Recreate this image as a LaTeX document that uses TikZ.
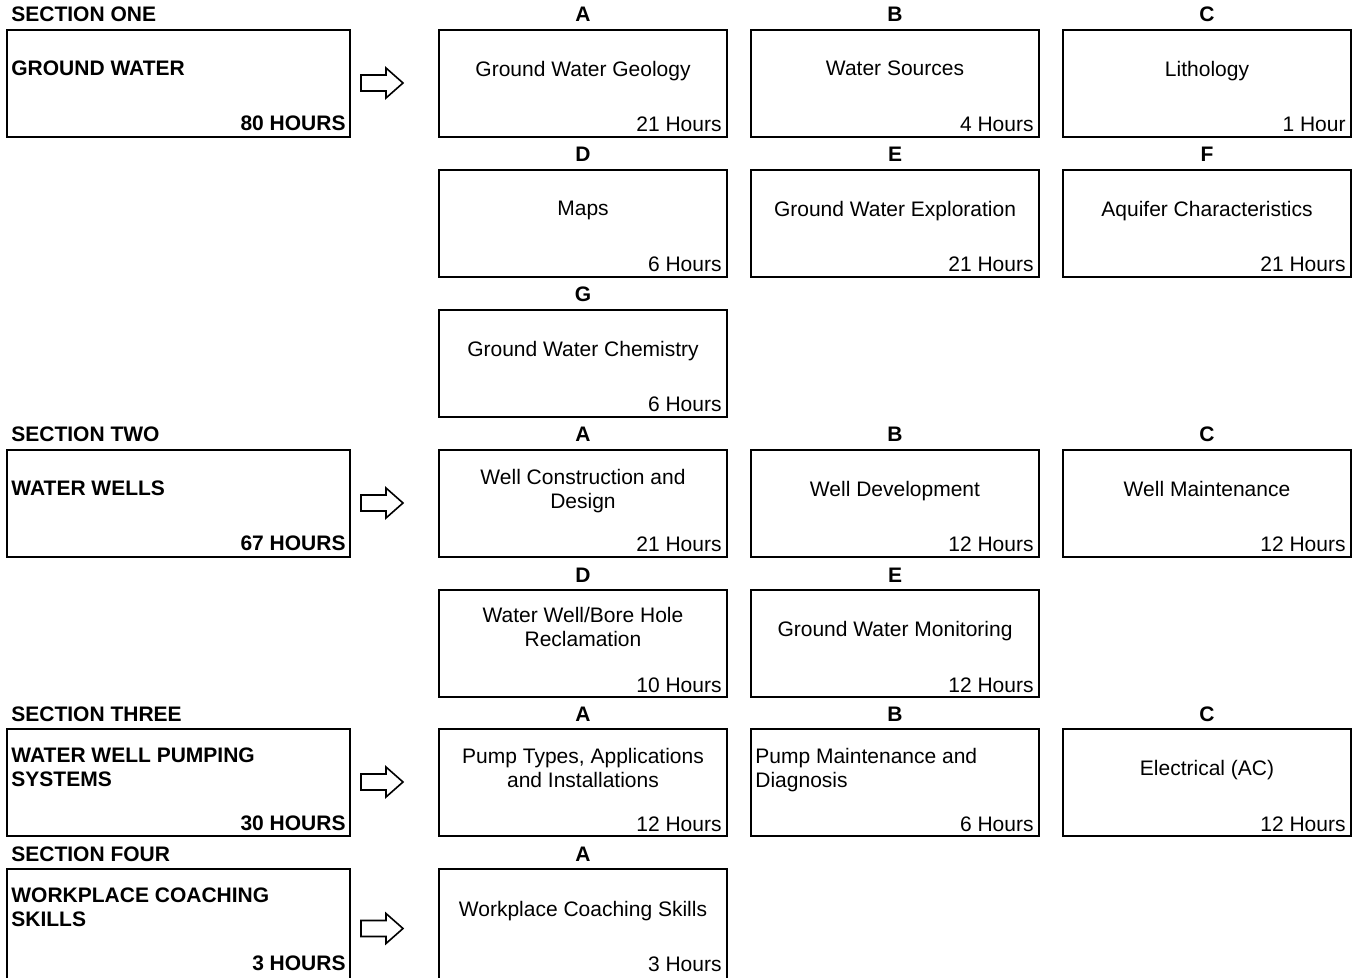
\documentclass[tikz,border=0pt]{standalone}
\usepackage{fontspec}
\setmainfont{Liberation Sans}
\usetikzlibrary{calc}
\def\boxh{53.5pt}
\tikzset{
  basefont/.style={font=\fontsize{10.5}{12}\selectfont},
  boldfont/.style={font=\fontsize{10.5}{12}\selectfont\bfseries},
  modframe/.style={draw, line width=1pt, anchor=north west, inner sep=0pt,
    minimum width=144pt, minimum height=\boxh},
  secframe/.style={draw, line width=1pt, anchor=north west, inner sep=0pt,
    minimum width=171.5pt, minimum height=\boxh},
  lettertext/.style={boldfont, inner sep=0pt, anchor=base},
  seclabel/.style={boldfont, inner sep=0pt, anchor=base west},
  titletext/.style={basefont, inner sep=0pt, anchor=north, align=center},
  titleleft/.style={basefont, inner sep=0pt, anchor=north west, align=left},
  sectitle/.style={boldfont, inner sep=0pt, anchor=north west, align=left},
  hourtext/.style={basefont, inner sep=0pt, anchor=base east},
  sechour/.style={boldfont, inner sep=0pt, anchor=base east},
  arrowline/.style={draw, line width=0.8pt, line join=miter, fill=white},
}
% module box: [title offset]{name}{x}{top}{letter}{title}{hours}
\newcommand\modbox[7][31.5]{%
  \node[modframe] (#2) at (#3,#4) {};
  \node[lettertext] (#2-l) at ($(#2.north)+(0,-7)$) {#5};
  \node[titletext] (#2-t) at ($(#2.north)+(0,#1)$) {#6};
  \node[hourtext] (#2-h) at ($(#2.north east)+(-6,103)$) {#7};
}
% section box: [title offset]{name}{top}{label}{title}{hours}
\newcommand\secbox[6][31.5]{%
  \node[secframe] (#2) at (6,#3) {};
  \node[seclabel] (#2-l) at ($(#2.north west)+(5,-7)$) {#4};
  \node[sectitle] (#2-t) at ($(#2.north west)+(5,#1)$) {#5};
  \node[sechour] (#2-h) at ($(#2.north east)+(-5,102)$) {#6};
  \coordinate (#2-a) at ($(#2.east)+(10,-0.5)$);
  \path[arrowline] (#2-a) ++(0,-8) -- ++(25,0) -- ++(0,-7) -- ++(17,15)
    -- ++(-17,15) -- ++(0,-7) -- ++(-25,0) -- cycle;
}
\begin{document}
\begin{tikzpicture}[x=0.5pt,y=-0.5pt]
\useasboundingbox (0,0) rectangle (1355,978);
\clip (0,0) rectangle (1355,978);
\fill[white] (0,0) rectangle (1355,978);

% Section one
\secbox{s1}{29}{SECTION ONE}{GROUND WATER}{80 HOURS}
\modbox{s1a}{438}{29}{A}{Ground Water Geology}{21 Hours}
\modbox{s1b}{750}{29}{B}{Water Sources}{4 Hours}
\modbox{s1c}{1062}{29}{C}{Lithology}{1 Hour}
\modbox{s1d}{438}{169}{D}{Maps}{6 Hours}
\modbox{s1e}{750}{169}{E}{Ground Water Exploration}{21 Hours}
\modbox{s1f}{1062}{169}{F}{Aquifer Characteristics}{21 Hours}
\modbox{s1g}{438}{309}{G}{Ground Water Chemistry}{6 Hours}

% Section two
\secbox{s2}{449}{SECTION TWO}{WATER WELLS}{67 HOURS}
\modbox[19.5]{s2a}{438}{449}{A}{Well Construction and\\Design}{21 Hours}
\modbox{s2b}{750}{449}{B}{Well Development}{12 Hours}
\modbox{s2c}{1062}{449}{C}{Well Maintenance}{12 Hours}
\modbox[18]{s2d}{438}{589}{D}{Water Well/Bore Hole\\Reclamation}{10 Hours}
\modbox{s2e}{750}{589}{E}{Ground Water Monitoring}{12 Hours}

% Section three
\secbox[19]{s3}{728}{SECTION THREE}{WATER WELL PUMPING\\SYSTEMS}{30 HOURS}
\modbox[19.5]{s3a}{438}{728}{A}{Pump Types, Applications\\and Installations}{12 Hours}
\node[modframe] (s3b) at (750,728) {};
\node[lettertext] (s3b-l) at ($(s3b.north)+(0,-7)$) {B};
\node[titleleft] (s3b-t) at ($(s3b.north west)+(5,19.5)$) {Pump Maintenance and\\Diagnosis};
\node[hourtext] (s3b-h) at ($(s3b.north east)+(-6,103)$) {6 Hours};
\modbox{s3c}{1062}{728}{C}{Electrical (AC)}{12 Hours}

% Section four
\def\boxh{60pt}
\secbox[19]{s4}{868}{SECTION FOUR}{WORKPLACE COACHING\\SKILLS}{3 HOURS}
\modbox[32.5]{s4a}{438}{868}{A}{Workplace Coaching Skills}{3 Hours}
\end{tikzpicture}
\end{document}
